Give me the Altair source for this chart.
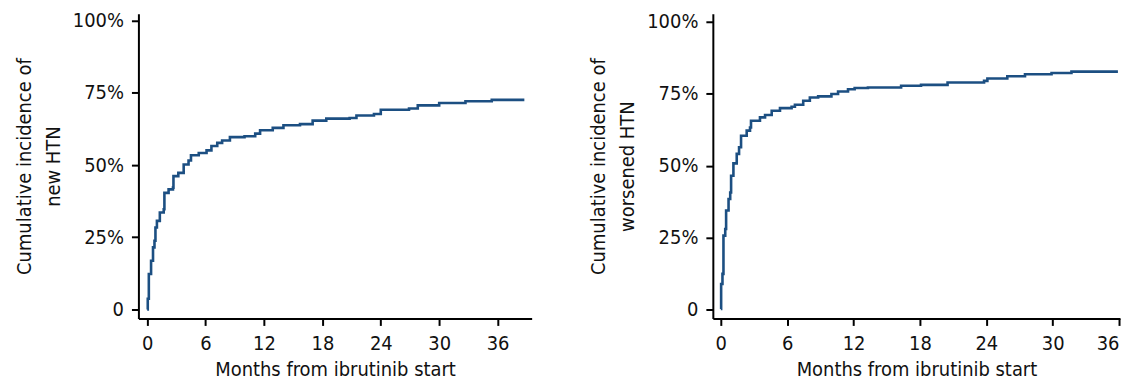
import altair as alt
import pandas as pd

# Left panel: new HTN (months, cumulative incidence %)
left_months = [0, 0.06, 0.17, 0.4, 0.6, 0.75, 0.85, 1.0, 1.3, 1.7, 1.77, 2.2, 2.65, 2.7, 3.2, 3.75,
               4.25, 4.5, 5.3, 6.1, 6.6, 7.2, 7.7, 8.5, 10.0, 11.1, 11.6, 12.9, 14.0, 15.7, 17.0,
               18.4, 20.8, 21.5, 23.3, 24.0, 26.9, 27.8, 30.0, 32.7, 35.4, 38.75]
left_pct = [0, 3.7, 12.3, 16.9, 21.5, 23.8, 28.4, 30.7, 33.6, 34.7, 40.4, 41.6, 42.2, 46.2, 47.3, 50.2,
            51.6, 53.4, 54.2, 55.1, 56.6, 57.7, 58.5, 59.7, 60.0, 60.9, 62.1, 62.9, 63.8, 64.2, 65.4,
            66.1, 66.3, 67.2, 67.7, 69.2, 69.6, 70.7, 71.5, 72.1, 72.6, 72.6]

# Right panel: worsened HTN
right_months = [0, 0.03, 0.15, 0.24, 0.4, 0.48, 0.7, 0.85, 0.93, 1.14, 1.44, 1.65, 1.83, 2.34, 2.64,
                2.73, 3.54, 4.0, 4.6, 5.35, 6.4, 6.7, 7.45, 8.05, 8.8, 10.0, 10.6, 11.5, 12.1, 13.3,
                16.3, 18.1, 20.5, 23.8, 24.1, 25.9, 27.5, 29.9, 31.7, 35.9]
right_pct = [0.2, 8.9, 12.4, 25.7, 28.0, 34.4, 38.4, 40.7, 46.5, 50.8, 54.1, 56.4, 60.4, 62.2, 63.3,
             65.6, 66.8, 67.6, 69.1, 70.0, 70.5, 71.2, 72.6, 73.7, 74.1, 74.9, 75.8, 76.6, 77.0, 77.2,
             77.8, 78.1, 78.9, 79.5, 80.3, 81.1, 81.8, 82.2, 82.7, 82.7]

x_ticks = [0, 6, 12, 18, 24, 30, 36]
y_ticks = [0, 25, 50, 75, 100]
x_title = "Months from ibrutinib start"
left_ytitle = ["Cumulative incidence of", "new HTN"]
right_ytitle = ["Cumulative incidence of", "worsened HTN"]

FONT = "Liberation Sans Narrow, DejaVu Sans Condensed, Arial Narrow, sans-serif"
COLOR = "#1c4f82"


def panel(months, pct, ytitle, xdom, ydom, width, flush):
    df = pd.DataFrame({"m": months, "p": pct})
    return alt.Chart(df).mark_line(interpolate="step-after", color=COLOR, strokeWidth=2.6).encode(
        x=alt.X("m:Q", scale=alt.Scale(domain=xdom, nice=False, zero=False),
                axis=alt.Axis(values=x_ticks, title=x_title, grid=False, labelFlush=flush,
                              titlePadding=6)),
        y=alt.Y("p:Q", scale=alt.Scale(domain=ydom, nice=False, zero=False),
                axis=alt.Axis(values=y_ticks, title=ytitle, grid=False, titlePadding=9,
                              labelExpr="datum.value == 0 ? '0' : datum.value + '%'")),
    ).properties(width=width, height=306)


left = panel(left_months, left_pct, left_ytitle, [-0.9, 39.5], [-3.1, 102.4], 395, False)
right = panel(right_months, right_pct, right_ytitle, [-0.72, 36.09], [-3.1, 102.8], 409, 4)

chart = alt.hconcat(left, right, spacing=57).properties(
    padding={"left": 6, "top": 1, "right": 0, "bottom": 0}
).configure_view(stroke=None).configure_axis(
    domainColor="black", domainWidth=2, tickColor="black", tickWidth=2, tickSize=7,
    labelFont=FONT, labelFontSize=20, labelColor="#111", labelPadding=8,
    titleFont=FONT, titleFontSize=20, titleFontWeight="normal", titleColor="#111",
    titleLineHeight=29,
)

chart.save("out.html", embed_options={"renderer": "svg", "actions": False})
